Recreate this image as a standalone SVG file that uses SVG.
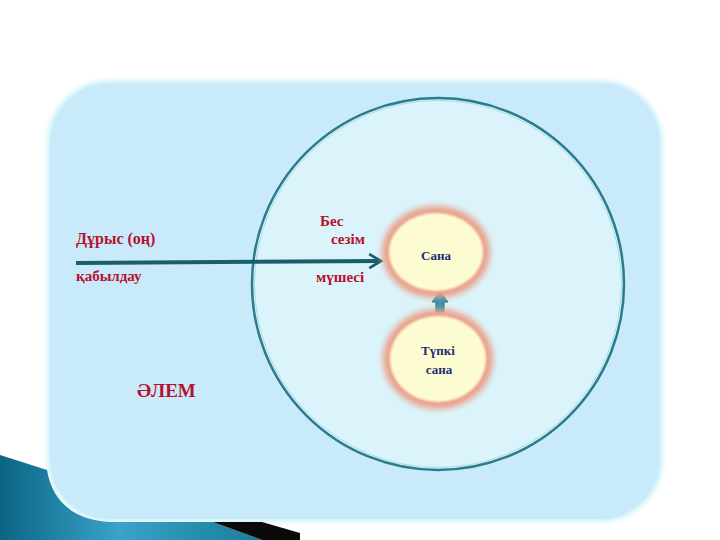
<svg xmlns="http://www.w3.org/2000/svg" width="720" height="540" viewBox="0 0 720 540">
<defs>
<style>
.red{font-family:"Liberation Serif","Times New Roman",serif;font-weight:bold;fill:#b8112b;}
.navy{font-family:"Liberation Serif","Times New Roman",serif;font-weight:bold;fill:#1b2e72;text-anchor:middle;}
.node{fill:#fdfbd2;filter:url(#edge);}
.halo{fill:#eb9f88;filter:url(#blur);}
</style>
<linearGradient id="teal" x1="0" y1="0" x2="1" y2="0">
<stop offset="0" stop-color="#0b6585"/>
<stop offset="0.45" stop-color="#39a3c8"/>
<stop offset="1" stop-color="#1a7d9a"/>
</linearGradient>
<filter id="blur" x="-30%" y="-30%" width="160%" height="160%">
<feGaussianBlur stdDeviation="3"/>
</filter>
<filter id="edge" x="-10%" y="-10%" width="120%" height="120%">
<feGaussianBlur stdDeviation="1.2"/>
</filter>
<filter id="soft" x="-5%" y="-5%" width="110%" height="110%">
<feGaussianBlur stdDeviation="2"/>
</filter>
<marker id="chev" viewBox="0 0 10 10" refX="8.5" refY="5" markerWidth="4.2" markerHeight="4.2" orient="auto" markerUnits="strokeWidth">
<path d="M1.5,0.8 L8.5,5 L1.5,9.2" fill="none" stroke="#1a5d6b" stroke-width="1.6"/>
</marker>
</defs>
<rect width="720" height="540" fill="#ffffff"/>
<g id="panel">
<rect x="47" y="80" width="616" height="442" rx="62" fill="#d0f3fa" filter="url(#soft)"/>
<rect x="50" y="83" width="610" height="436" rx="60" fill="#c8eafb"/>
</g>
<g id="decor">
<path d="M0,455 L47,470 C52,500 72,520 110,522 L213,522 L262,540 L0,540 Z" fill="url(#teal)"/>
<path d="M213,522 L262,522 L300,533 L300,540 L262,540 Z" fill="#0a0a0a"/>
</g>
<g id="world">
<circle cx="438" cy="284" r="186" fill="#dbf4fb" stroke="#2a7b8b" stroke-width="2.5"/>
<circle cx="438" cy="284" r="183.5" fill="none" stroke="#a9dbe6" stroke-width="1"/>
<text class="red" x="137" y="397" font-size="19">ӘЛЕМ</text>
</g>
<g id="connectors">
<path d="M76,263 L381,261" fill="none" stroke="#1a5d6b" stroke-width="4" marker-end="url(#chev)"/>
<path d="M440,292 L448,302 L444,302 L444,312 L436,312 L436,302 L432,302 Z" fill="#2d94b0" stroke="#1a6f85" stroke-width="1"/>
</g>
<g id="labels">
<text class="red" x="76" y="244" font-size="16">Дұрыс (оң)</text>
<text class="red" x="76" y="281" font-size="15">қабылдау</text>
<text class="red" x="320" y="226" font-size="15">Бес</text>
<text class="red" x="331" y="244" font-size="15">сезім</text>
<text class="red" x="316" y="282" font-size="15">мүшесі</text>
</g>
<g id="sana">
<ellipse cx="436" cy="252" rx="54" ry="46" class="halo"/>
<ellipse cx="436" cy="252" rx="47" ry="39" class="node"/>
<text class="navy" x="436" y="260" font-size="13">Сана</text>
</g>
<g id="tupki">
<ellipse cx="438" cy="359" rx="55" ry="50" class="halo"/>
<ellipse cx="438" cy="359" rx="48" ry="43" class="node"/>
<text class="navy" x="438" y="355" font-size="13">Түпкі</text>
<text class="navy" x="439" y="374" font-size="13">сана</text>
</g>
</svg>
